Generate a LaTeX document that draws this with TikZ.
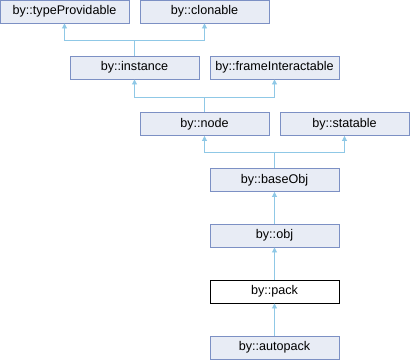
\documentclass[tikz,border=0pt]{standalone}
\usepackage{fontspec}
\setmainfont{Liberation Sans}
\usetikzlibrary{arrows.meta}
\definecolor{boxfill}{HTML}{E8ECF5}
\definecolor{boxdraw}{HTML}{7C90C4}
\definecolor{edgecol}{HTML}{8FC8E6}
\tikzset{
  cls/.style={draw=boxdraw, fill=boxfill, line width=0.9pt, minimum width=129pt, minimum height=23pt, inner sep=0pt, font=\fontsize{12.6}{15}\selectfont},
  cur/.style={cls, draw=black, fill=white},
  edge/.style={draw=edgecol, line width=0.9pt, -{Triangle[length=5pt,width=5pt]}}
}
\begin{document}
\begin{tikzpicture}[x=1pt,y=-1pt]
\useasboundingbox (0,0) rectangle (410,360);
\node[cls] (tp) at (64.5,11.5) {by::typeProvidable};
\node[cls] (cl) at (204.5,11.5) {by::clonable};
\node[cls] (inst) at (134.5,67.5) {by::instance};
\node[cls] (fi) at (274.5,67.5) {by::frameInteractable};
\node[cls] (nd) at (204.5,124) {by::node};
\node[cls] (st) at (344.5,124) {by::statable};
\node[cls] (base) at (274.5,180) {by::baseObj};
\node[cls] (obj) at (274.5,235.5) {by::obj};
\node[cur] (pack) at (274.5,291.5) {by::pack};
\node[cls] (auto) at (274.5,347.5) {by::autopack};
\coordinate (j1) at (134.5,40);
\coordinate (j2) at (204.5,97);
\coordinate (j3) at (274.5,152);
\draw[edge] (inst.north) -- (j1) -| (tp.south);
\draw[edge] (inst.north) -- (j1) -| (cl.south);
\draw[edge] (nd.north) -- (j2) -| (inst.south);
\draw[edge] (nd.north) -- (j2) -| (fi.south);
\draw[edge] (base.north) -- (j3) -| (nd.south);
\draw[edge] (base.north) -- (j3) -| (st.south);
\draw[edge] (obj.north) -- (base.south);
\draw[edge] (pack.north) -- (obj.south);
\draw[edge] (auto.north) -- (pack.south);
\end{tikzpicture}
\end{document}
